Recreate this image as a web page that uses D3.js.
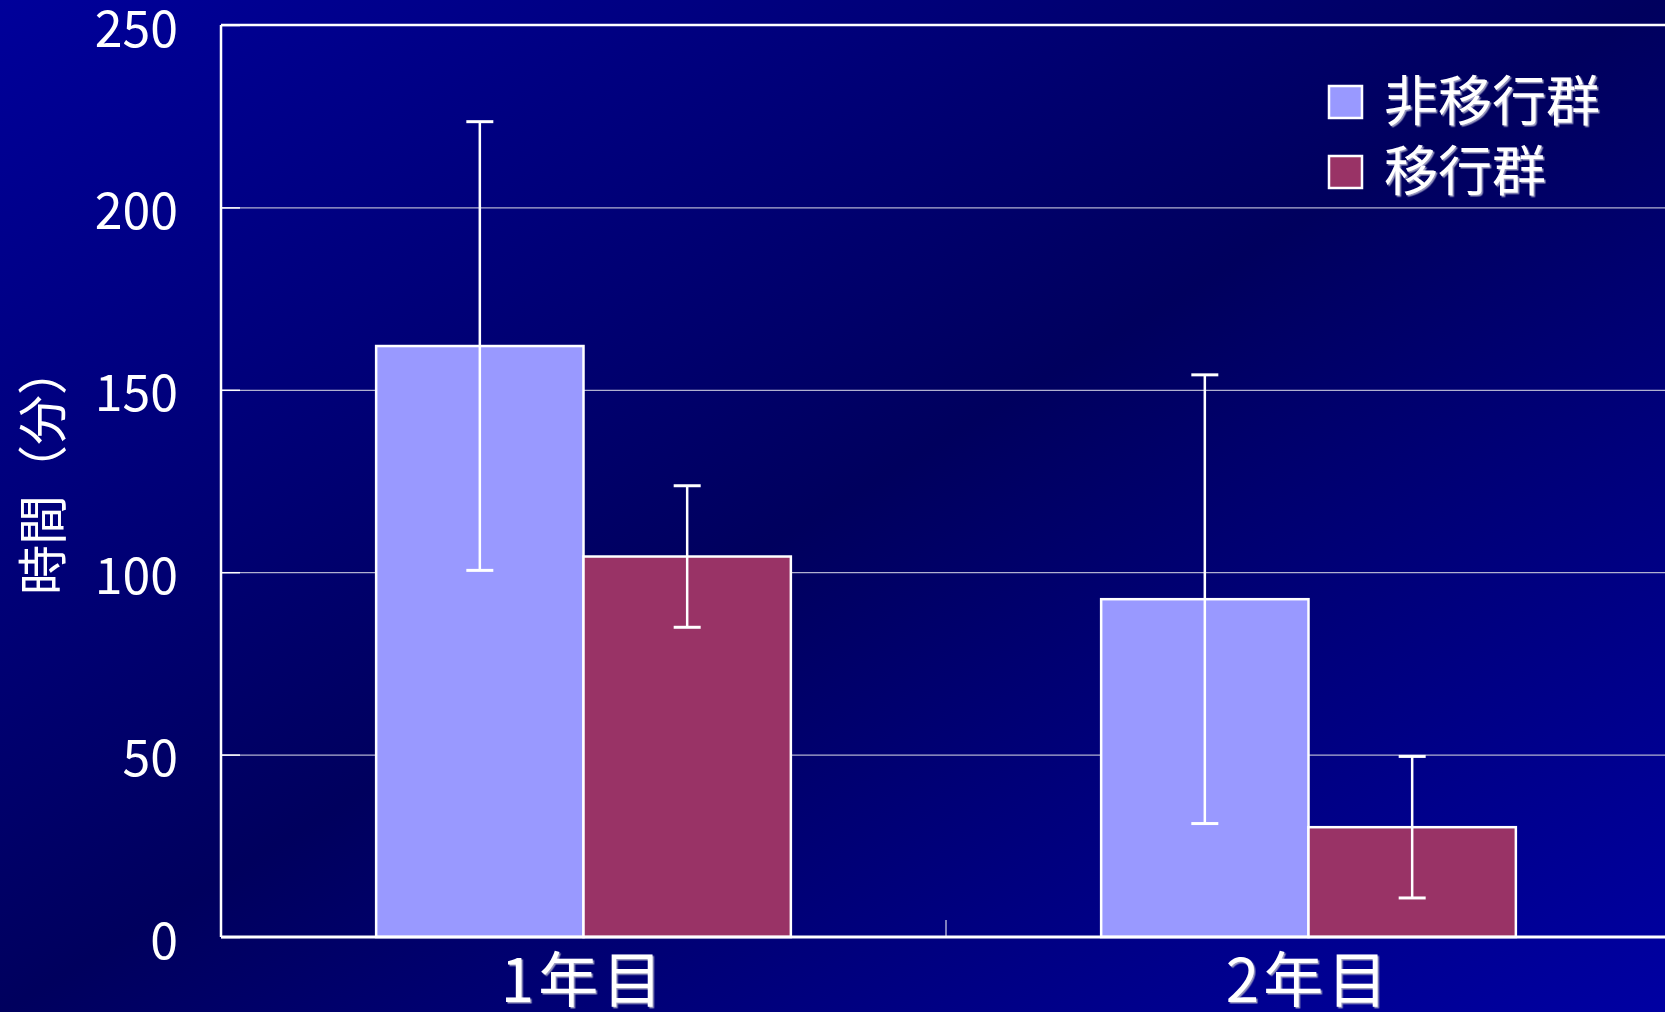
<!DOCTYPE html>
<html><head><meta charset="utf-8">
<script src="https://cdn.jsdelivr.net/npm/d3@7"></script>
<style>html,body{margin:0;padding:0;overflow:hidden;background:#000060}</style>
</head><body>
<script>
const categories = ["1年目", "2年目"];
const seriesNames = ["非移行群", "移行群"];
const nonMigrantMean = [162, 92.6];
const nonMigrantSD = [61.5, 61.5];
const migrantMean = [104.3, 30.1];
const migrantSD = [19.4, 19.4];
const yTicks = [0, 50, 100, 150, 200, 250];
const yTitle = "時間（分）";
const seriesColors = ["#9999ff", "#993366"];

(function () {
const W = 1665, H = 1012;
const font = "'Noto Sans CJK JP', 'Noto Sans', sans-serif";
const svg = d3.select("body").append("svg").attr("width", W).attr("height", H);
const defs = svg.append("defs");
const grad = defs.append("linearGradient").attr("id", "bg")
  .attr("x1", 0).attr("y1", 0).attr("x2", 1).attr("y2", 1);
grad.append("stop").attr("offset", 0).attr("stop-color", "#00009a");
grad.append("stop").attr("offset", 0.5).attr("stop-color", "#00005e");
grad.append("stop").attr("offset", 1).attr("stop-color", "#0000a2");
const sh = defs.append("filter").attr("id", "sh").attr("x", "-10%").attr("y", "-10%").attr("width", "130%").attr("height", "130%");
sh.append("feDropShadow").attr("dx", 1.5).attr("dy", 1.5).attr("stdDeviation", 0.3)
  .attr("flood-color", "#9a9ac0").attr("flood-opacity", 1);
svg.append("rect").attr("width", W).attr("height", H).attr("fill", "url(#bg)");

const pL = 221, pR = 1671, pT = 25, pB = 937;
const y = d3.scaleLinear().domain([0, 250]).range([pB, pT]);
const x0 = d3.scaleBand().domain(categories).range([pL, pR]).padding(0);
const groupW = x0.bandwidth() * 0.572;
const x1 = d3.scaleBand().domain(seriesNames).range([0, groupW]);
const offset = (x0.bandwidth() - groupW) / 2;

// gridlines
svg.append("g").attr("transform", `translate(${pL},0)`)
  .call(d3.axisLeft(y).tickValues(yTicks.slice(1, -1)).tickSize(-(pR - pL)).tickFormat(""))
  .call(g => g.select(".domain").remove())
  .call(g => g.selectAll("line").attr("stroke", "#b0b0d0").attr("stroke-width", 1.2));

// y axis ticks + labels
svg.append("g").attr("transform", `translate(${pL},0)`)
  .call(d3.axisLeft(y).tickValues(yTicks).tickSizeInner(-19).tickSizeOuter(0).tickPadding(43))
  .call(g => g.select(".domain").remove())
  .call(g => g.selectAll("line").attr("stroke", "#ffffff").attr("stroke-width", 1.5))
  .call(g => g.selectAll("text").attr("fill", "#ffffff").attr("font-family", font)
     .attr("font-size", 50).attr("dy", "0.42em"));

// bars
const data = categories.map((c, i) => ({cat: c, vals: [
  {s: seriesNames[0], m: nonMigrantMean[i], sd: nonMigrantSD[i], c: seriesColors[0]},
  {s: seriesNames[1], m: migrantMean[i], sd: migrantSD[i], c: seriesColors[1]}]}));
const grp = svg.selectAll("g.grp").data(data).join("g").attr("class", "grp")
  .attr("transform", d => `translate(${x0(d.cat) + offset},0)`);
grp.selectAll("rect").data(d => d.vals).join("rect")
  .attr("x", d => x1(d.s)).attr("width", x1.bandwidth())
  .attr("y", d => y(d.m)).attr("height", d => y(0) - y(d.m))
  .attr("fill", d => d.c).attr("stroke", "#ffffff").attr("stroke-width", 2.5);
// error bars
const capW = 27;
const eb = grp.selectAll("g.eb").data(d => d.vals).join("g").attr("class", "eb")
  .attr("transform", d => `translate(${x1(d.s) + x1.bandwidth() / 2},0)`);
eb.append("line").attr("x1", 0).attr("x2", 0).attr("y1", d => y(d.m + d.sd)).attr("y2", d => y(d.m - d.sd))
  .attr("stroke", "#fff").attr("stroke-width", 2.5);
eb.append("line").attr("x1", -capW / 2).attr("x2", capW / 2).attr("y1", d => y(d.m + d.sd)).attr("y2", d => y(d.m + d.sd))
  .attr("stroke", "#fff").attr("stroke-width", 3);
eb.append("line").attr("x1", -capW / 2).attr("x2", capW / 2).attr("y1", d => y(d.m - d.sd)).attr("y2", d => y(d.m - d.sd))
  .attr("stroke", "#fff").attr("stroke-width", 3);

// plot frame
svg.append("line").attr("x1", pL).attr("x2", pL).attr("y1", pT).attr("y2", pB).attr("stroke", "#fff").attr("stroke-width", 2.5);
svg.append("line").attr("x1", pL).attr("x2", pR).attr("y1", pT).attr("y2", pT).attr("stroke", "#fff").attr("stroke-width", 2.5);
svg.append("line").attr("x1", pL).attr("x2", pR).attr("y1", pB).attr("y2", pB).attr("stroke", "#fff").attr("stroke-width", 3);
// category boundary tick
categories.slice(1).forEach(c => {
  svg.append("line").attr("x1", x0(c)).attr("x2", x0(c)).attr("y1", pB).attr("y2", pB - 17)
    .attr("stroke", "#fff").attr("stroke-width", 1);
});

// x labels
svg.append("g").attr("transform", `translate(0,${pB})`)
  .call(d3.axisBottom(x0).tickSize(0).tickPadding(0))
  .call(g => g.select(".domain").remove())
  .call(g => g.selectAll("text").attr("fill", "#ffffff").attr("font-family", font)
     .attr("font-size", 60).attr("font-weight", 400).attr("letter-spacing", 4)
     .attr("y", 44).attr("dy", "0.35em").attr("filter", "url(#sh)"));

// y title
svg.append("text").attr("transform", "translate(43,470) rotate(-90)")
  .attr("text-anchor", "middle").attr("dy", "0.35em")
  .attr("fill", "#fff").attr("font-family", font).attr("font-size", 50).text(yTitle);

// legend
const lg = svg.append("g").selectAll("g").data(seriesNames).join("g")
  .attr("transform", (d, i) => `translate(1329,${86 + i * 70})`);
lg.append("rect").attr("width", 33).attr("height", 32)
  .attr("fill", (d, i) => seriesColors[i]).attr("stroke", "#fff").attr("stroke-width", 2.5);
lg.append("text").attr("x", 55).attr("y", 16).attr("dy", "0.35em")
  .attr("fill", "#fff").attr("font-family", font).attr("font-size", 54).attr("font-weight", 400)
  .attr("filter", "url(#sh)").text(d => d);
})();
</script>
</body></html>
